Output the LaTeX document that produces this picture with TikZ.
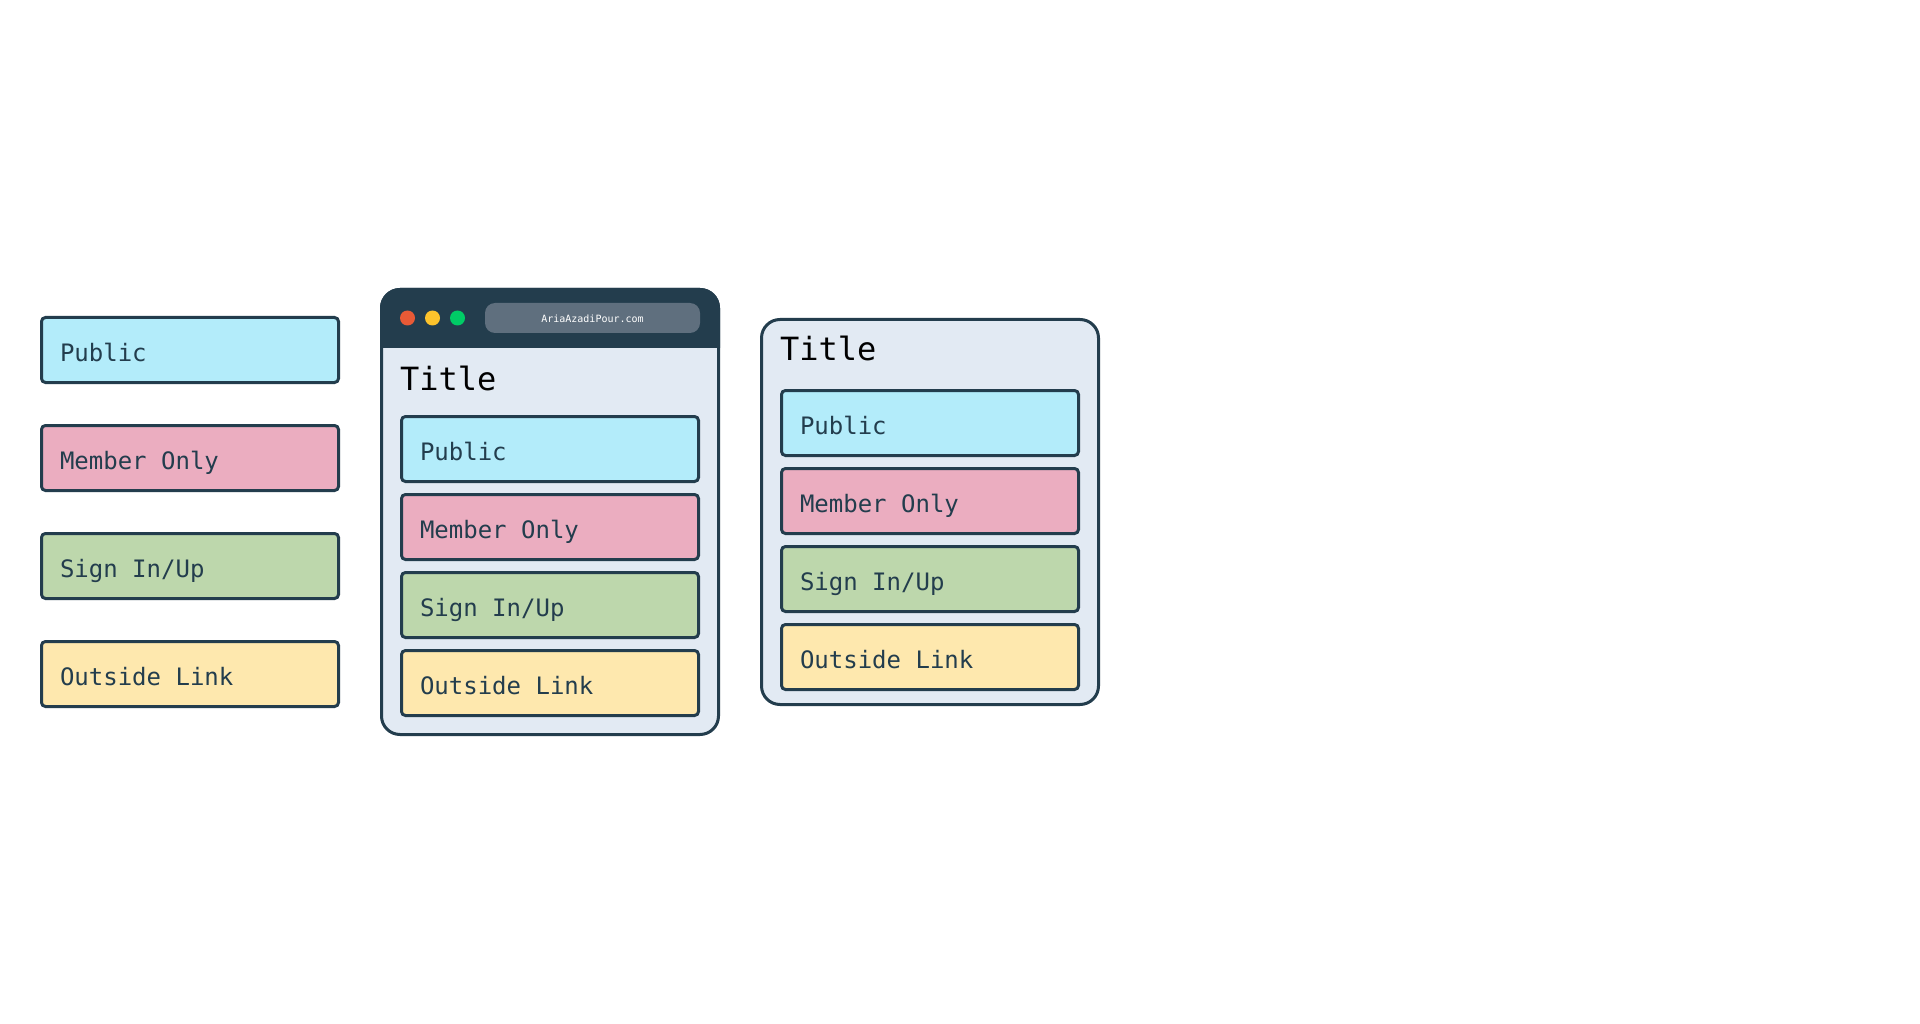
\documentclass[tikz,border=0pt]{standalone}
\usepackage{fontspec}
\setmonofont{DejaVu Sans Mono}
\definecolor{ink}{HTML}{233D4D}
\definecolor{panel}{HTML}{E2EAF3}
\definecolor{cpublic}{HTML}{B3ECFA}
\definecolor{cmember}{HTML}{EBADC0}
\definecolor{csign}{HTML}{BDD7AC}
\definecolor{coutside}{HTML}{FEE8AE}
\definecolor{dotred}{HTML}{E85A36}
\definecolor{dotyellow}{HTML}{FCC32C}
\definecolor{dotgreen}{HTML}{00CC66}
\definecolor{urlbar}{HTML}{5F6F7E}
\tikzset{
  linkbox/.style={draw=ink,line width=3pt,rounded corners=4pt,minimum width=297pt,minimum height=65pt,anchor=north west,inner sep=0pt,outer sep=0pt},
  linklabel/.style={anchor=base west,inner sep=0pt,outer sep=0pt,text=ink,font=\ttfamily\fontsize{24}{24}\selectfont},
  titlelabel/.style={anchor=base west,inner sep=0pt,outer sep=0pt,text=black,font=\ttfamily\fontsize{32}{32}\selectfont},
  panelbox/.style={draw=ink,fill=panel,line width=3pt,rounded corners=18.5pt},
  winbtn/.style={circle,minimum size=15pt,inner sep=0pt,outer sep=0pt}
}
\newcommand{\linkstack}[4]{%
  \node[linkbox,fill=cpublic] (#1a) at (#2+1.5,#3+1.5) {};
  \node[linklabel] (#1at) at (#2+20,#3+45) {Public};
  \node[linkbox,fill=cmember] (#1b) at (#2+1.5,#3+#4+1.5) {};
  \node[linklabel] (#1bt) at (#2+20,#3+#4+45) {Member Only};
  \node[linkbox,fill=csign] (#1c) at (#2+1.5,#3+#4+#4+1.5) {};
  \node[linklabel] (#1ct) at (#2+20,#3+#4+#4+45) {Sign In/Up};
  \node[linkbox,fill=coutside] (#1d) at (#2+1.5,#3+#4+#4+#4+1.5) {};
  \node[linklabel] (#1dt) at (#2+20,#3+#4+#4+#4+45) {Outside Link};
}
\begin{document}
\begin{tikzpicture}[x=1pt,y=-1pt]
\useasboundingbox (0,0) rectangle (1920,1024);
\fill[white] (0,0) rectangle (1920,1024);
% legend
\linkstack{l}{40}{316}{108}
% browser window
\draw[panelbox] (381.5,289.5) rectangle (718.5,734.5);
\fill[ink] (380,348) -- (380,308) .. controls (380,297) and (389,288) .. (400,288) -- (700,288) .. controls (711,288) and (720,297) .. (720,308) -- (720,348) -- cycle;
\node[winbtn,fill=dotred] (btnr) at (407.5,318) {};
\node[winbtn,fill=dotyellow] (btny) at (432.5,318) {};
\node[winbtn,fill=dotgreen] (btng) at (457.5,318) {};
\node[fill=urlbar,rounded corners=10pt,minimum width=215pt,minimum height=30pt,inner sep=0pt,outer sep=0pt] (url) at (592.5,318) {};
\node[inner sep=0pt,outer sep=0pt,anchor=base,text=white,font=\ttfamily\fontsize{10}{10}\selectfont] (urltext) at (592.5,323) {AriaAzadiPour.com};
\node[titlelabel] (wintitle) at (400,390.5) {Title};
\linkstack{w}{400}{415}{78}
% card
\draw[panelbox] (761.5,319.5) rectangle (1098.5,704.5);
\node[titlelabel] (cardtitle) at (780,360.5) {Title};
\linkstack{c}{780}{389}{78}
\end{tikzpicture}
\end{document}
